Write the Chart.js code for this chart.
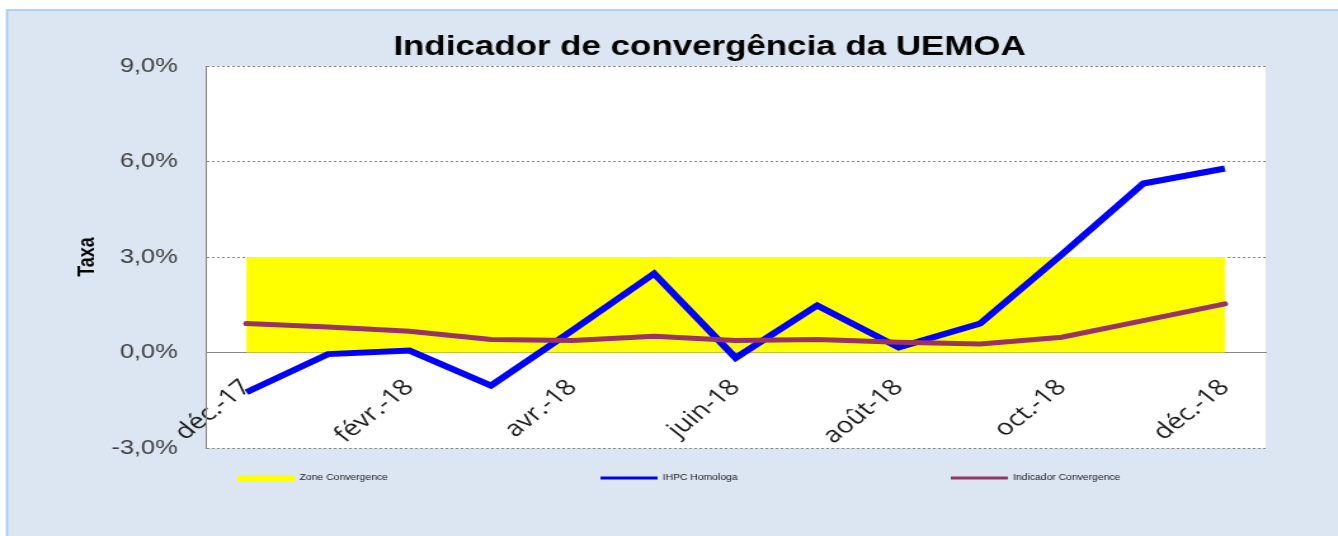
<!DOCTYPE html>
<html lang="pt">
<head>
    <meta charset="UTF-8">
    <title>Indicador de convergência da UEMOA</title>
    <script src="https://cdn.jsdelivr.net/npm/chart.js"></script>
    <style>
        html, body { margin: 0; padding: 0; background: #ffffff; overflow: hidden; }
        /* the original picture is stretched sideways, so draw narrower and stretch */
        #chartBox { width: 1054px; height: 536px; transform: scaleX(1.2694); transform-origin: 0 0; }
    </style>
</head>
<body>
    <div id="chartBox">
        <canvas id="uemoaChart"></canvas>
    </div>
    <script>
        // months (dec 2017 - dec 2018)
        const months = ['déc.-17', 'janv.-18', 'févr.-18', 'mars-18', 'avr.-18', 'mai-18', 'juin-18',
            'juil.-18', 'août-18', 'sept.-18', 'oct.-18', 'nov.-18', 'déc.-18'];

        // values, in %
        const zoneConvergence = [3, 3, 3, 3, 3, 3, 3, 3, 3, 3, 3, 3, 3];
        const ihpcHomologa = [-1.25, -0.05, 0.06, -1.04, 0.7, 2.48, -0.17, 1.48, 0.16, 0.91, 3.08, 5.31, 5.78];
        const indicadorConvergencia = [0.91, 0.8, 0.67, 0.41, 0.38, 0.51, 0.38, 0.41, 0.32, 0.27, 0.48, 1.0, 1.53];

        const yTicks = [-3, 0, 3, 6, 9];

        const titleText = 'Indicador de convergência da UEMOA';

        // background frame + white plot area + title
        const framePlugin = {
            id: 'frame',
            beforeDraw(chart) {
                const ctx = chart.ctx;
                const a = chart.chartArea;
                ctx.save();
                ctx.fillStyle = '#ffffff';
                ctx.fillRect(0, 0, chart.width, chart.height);
                ctx.fillStyle = '#dce6f2';
                ctx.fillRect(5.5, 10, chart.width - 5.5, chart.height - 10);
                ctx.strokeStyle = '#9dc8f2';
                ctx.lineWidth = 1.6;
                ctx.beginPath();
                ctx.moveTo(5.5, chart.height);
                ctx.lineTo(5.5, 10);
                ctx.lineTo(chart.width, 10);
                ctx.stroke();
                ctx.fillStyle = '#ffffff';
                ctx.fillRect(a.left, a.top, a.right - a.left, a.bottom - a.top);

                ctx.fillStyle = '#000000';
                ctx.font = 'bold 27.5px "Liberation Sans"';
                ctx.textAlign = 'center';
                ctx.textBaseline = 'alphabetic';
                ctx.fillText(titleText, 559, 55);
                ctx.restore();
            }
        };

        // legend spread over the bottom like the original
        const legendPlugin = {
            id: 'wideLegend',
            afterDraw(chart) {
                const ctx = chart.ctx;
                const xs = [187, 473, 749];
                const y = 478;
                ctx.save();
                chart.data.datasets.forEach((ds, i) => {
                    ctx.strokeStyle = ds.legendColor;
                    ctx.lineWidth = i === 0 ? 6 : 3;
                    ctx.beginPath();
                    ctx.moveTo(xs[i], y);
                    ctx.lineTo(xs[i] + 45, y);
                    ctx.stroke();
                    ctx.fillStyle = '#1a1a1a';
                    ctx.font = '8.2px "Liberation Sans"';
                    ctx.textBaseline = 'middle';
                    ctx.fillText(ds.label, xs[i] + 49, y);
                });
                ctx.restore();
            }
        };

        const ctx = document.getElementById('uemoaChart').getContext('2d');

        const chart = new Chart(ctx, {
            type: 'line',
            data: {
                labels: months,
                datasets: [{
                    label: 'Zone Convergence',
                    data: zoneConvergence,
                    legendColor: '#ffff00',
                    borderWidth: 0,
                    borderColor: 'rgba(0,0,0,0)',
                    backgroundColor: '#ffff00',
                    fill: 'origin',
                    pointRadius: 0,
                    tension: 0,
                    order: 2
                }, {
                    label: 'IHPC Homologa',
                    data: ihpcHomologa,
                    legendColor: '#0000ff',
                    borderColor: '#0000ff',
                    borderWidth: 6,
                    fill: false,
                    pointRadius: 0,
                    tension: 0,
                    order: 1
                }, {
                    label: 'Indicador Convergence',
                    data: indicadorConvergencia,
                    legendColor: '#993366',
                    borderColor: '#993366',
                    borderWidth: 5,
                    fill: false,
                    pointRadius: 0,
                    tension: 0,
                    borderCapStyle: 'round',
                    order: 0
                }]
            },
            options: {
                responsive: true,
                maintainAspectRatio: false,
                animation: false,
                layout: {
                    padding: { left: 45, right: 57, top: 66, bottom: 88 }
                },
                scales: {
                    x: {
                        position: { y: 0 },
                        offset: true,
                        grid: { display: false },
                        border: { display: true, color: '#868686', width: 1 },
                        ticks: {
                            autoSkip: false,
                            minRotation: 45,
                            maxRotation: 45,
                            padding: 14,
                            color: '#1a1a1a',
                            font: { family: '"Open Sans"', size: 22 },
                            callback: function (value, index) {
                                return index % 2 === 0 ? months[index] : '';
                            }
                        }
                    },
                    y: {
                        min: -3,
                        max: 9,
                        afterFit: function (scale) { scale.width = 117; },
                        afterBuildTicks: function (scale) {
                            scale.ticks = yTicks.map(v => ({ value: v }));
                        },
                        grid: {
                            color: '#868686',
                            lineWidth: 1,
                            drawTicks: false
                        },
                        border: { display: true, color: '#868686', width: 1, dash: [2, 2] },
                        ticks: {
                            padding: 22,
                            color: '#404040',
                            font: { family: '"Liberation Sans"', size: 20 },
                            callback: function (value) {
                                return value.toFixed(1).replace('.', ',') + '%';
                            }
                        },
                        title: {
                            display: true,
                            text: 'Taxa',
                            color: '#000000',
                            padding: { top: 13, bottom: 0 },
                            font: { family: '"Liberation Sans"', size: 18, weight: 'bold' }
                        }
                    }
                },
                plugins: {
                    legend: { display: false },
                    tooltip: { enabled: false },
                    title: { display: false }
                }
            },
            plugins: [framePlugin, legendPlugin]
        });
    </script>
</body>
</html>
